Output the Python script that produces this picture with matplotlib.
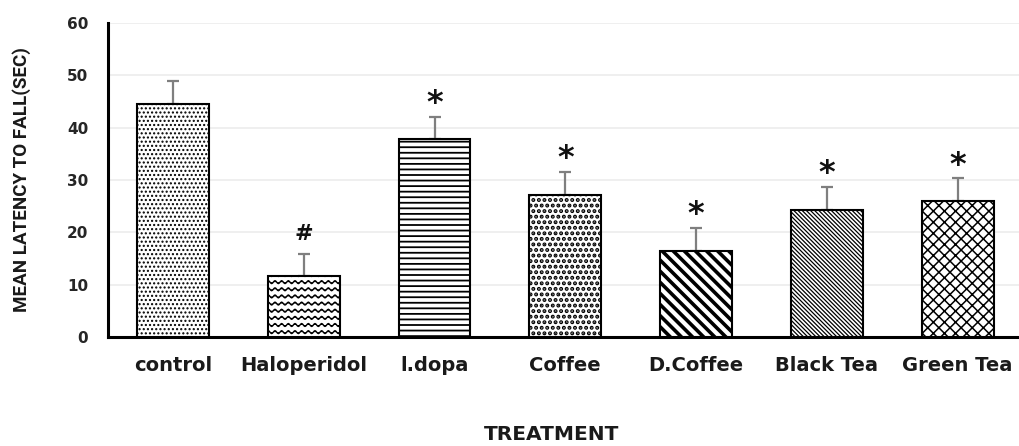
import numpy as np
import matplotlib
matplotlib.use("Agg")
import matplotlib.pyplot as plt
import matplotlib.hatch as mhatch
from matplotlib.path import Path

# ---- data ----
categories = ["control", "Haloperidol", "l.dopa", "Coffee", "D.Coffee", "Black Tea", "Green Tea"]
means = [44.6, 11.7, 37.9, 27.1, 16.4, 24.2, 25.9]
errors = [4.4, 4.2, 4.1, 4.5, 4.5, 4.4, 4.4]
marks = ["", "#", "*", "*", "*", "*", "*"]
y_ticks = [0, 10, 20, 30, 40, 50, 60]

# ---- custom wavy hatch (replaces the unused '*' star hatch) ----
class WaveHatch(mhatch.HatchPatternBase):
    periods = 15
    pts = 8

    def __init__(self, hatch, density):
        self.num_lines = int(hatch.count('*') * 7)
        self.n = self.periods * self.pts + 1
        self.num_vertices = self.num_lines * self.n

    def set_vertices_and_codes(self, vertices, codes):
        if self.num_lines == 0:
            return
        n = self.n
        xs = np.linspace(0, 1, n)
        amp = 0.2 / self.num_lines
        yo = amp * np.sin(2 * np.pi * self.periods * xs)
        steps = (np.arange(self.num_lines) + 0.5) / self.num_lines
        for i, s in enumerate(steps):
            vertices[i * n:(i + 1) * n, 0] = xs
            vertices[i * n:(i + 1) * n, 1] = s + yo
            codes[i * n] = Path.MOVETO
            codes[i * n + 1:(i + 1) * n] = Path.LINETO

for i, t in enumerate(mhatch._hatch_types):
    if t.__name__ == "Stars":
        mhatch._hatch_types[i] = WaveHatch

hatches = ["....", "**", "---", "...", "\\\\\\", "\\\\\\\\\\\\\\\\", "xxx"]
hatch_lw = [1.0, 1.0, 1.3, 2.0, 2.6, 0.9, 1.1]

W, H = 1019, 446
fig = plt.figure(figsize=(W / 100, H / 100), dpi=100)
ax = fig.add_axes([107.6 / W, 1 - 337 / H, (W - 107.6) / W, (337 - 23) / H])

x = np.arange(len(categories))
bars = ax.bar(x, means, width=0.55, color="white", edgecolor="black",
              linewidth=1.5, zorder=3)
for b, h, lw in zip(bars, hatches, hatch_lw):
    b.set_hatch(h)
    if hasattr(b, "set_hatch_linewidth"):
        b.set_hatch_linewidth(lw)
    else:
        b._hatch_linewidth = lw

ax.errorbar(x, means, yerr=[np.zeros(len(errors)), errors], fmt="none",
            ecolor="#7f7f7f", elinewidth=1.6, capsize=4.3, capthick=1.6, zorder=2)

for xi, m, e, mk in zip(x, means, errors, marks):
    if mk == "*":
        ax.annotate(mk, (xi, m + e), xytext=(0, 3.5), textcoords="offset points",
                    ha="center", va="baseline", fontsize=23, fontweight="bold",
                    family="DejaVu Sans", color="#111111")
    elif mk:
        ax.annotate(mk, (xi, m + e), xytext=(0, 10), textcoords="offset points",
                    ha="center", va="baseline", fontsize=16, fontweight="bold",
                    family="DejaVu Sans", color="#111111")

ax.set_xlim(-0.5, 6.47)
ax.set_ylim(0, 60)
ax.set_yticks(y_ticks)
ax.set_yticklabels([str(v) for v in y_ticks], fontsize=11, fontweight="bold",
                   family="DejaVu Sans", color="#262626")
ax.set_xticks(x)
ax.set_xticklabels(categories, fontsize=14, fontweight="bold",
                   family="DejaVu Sans", color="#1a1a1a")
ax.tick_params(axis="both", length=0)
ax.tick_params(axis="y", pad=14)
ax.tick_params(axis="x", pad=14)

ax.yaxis.grid(True, color="#ececec", linewidth=1.2, zorder=0)
ax.set_axisbelow(True)
for s in ["top", "right"]:
    ax.spines[s].set_visible(False)
for s in ["left", "bottom"]:
    ax.spines[s].set_linewidth(2.2)
    ax.spines[s].set_color("black")

fig.text(22 / W, 1 - 180 / H, "MEAN LATENCY TO FALL(SEC)", rotation=90,
         ha="center", va="center", fontsize=13.5, fontweight="bold",
         family=["Roboto", "DejaVu Sans"], color="#1a1a1a")
fig.text(552 / W, 1 - 435 / H, "TREATMENT", ha="center", va="center",
         fontsize=14.5, fontweight="bold", family="DejaVu Sans", color="#1a1a1a")

fig.savefig("out.png", dpi=100)
